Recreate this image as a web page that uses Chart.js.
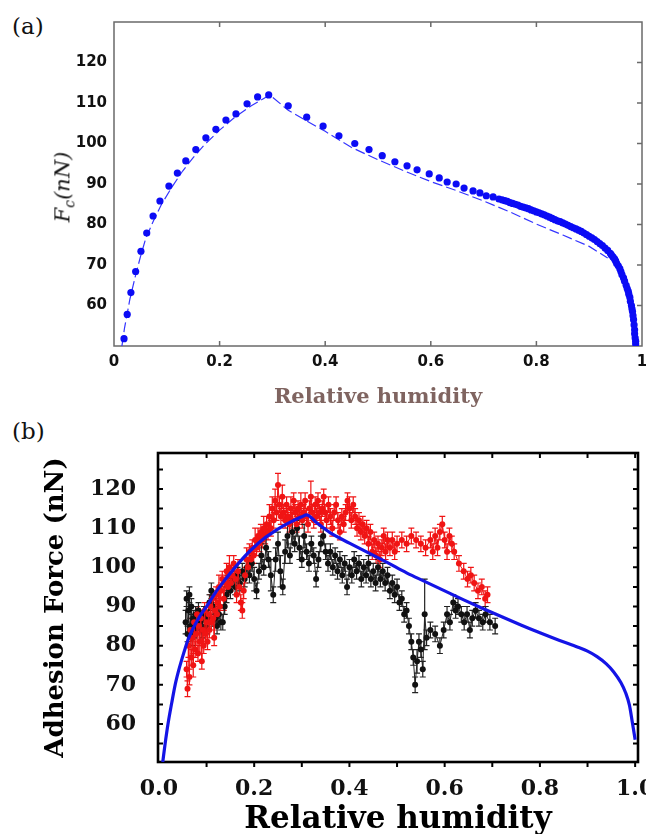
<!DOCTYPE html>
<html>
<head>
<meta charset="utf-8">
<script src="https://cdn.jsdelivr.net/npm/chart.js@4.4.0/dist/chart.umd.min.js"></script>
<style>
  body { margin: 0; width: 646px; height: 834px; position: relative; overflow: hidden; background: #fff; }
  canvas { position: absolute; left: 0; }
  .tag { position: absolute; left: 12px; font: 23px 'DejaVu Serif', serif; color: #111; }
  #fc { position: absolute; left: 64px; top: 187px; transform: translate(-50%, -50%) rotate(-90deg);
        font: italic 21px 'DejaVu Serif', serif; white-space: nowrap; color: #111; }
  #fc sub { font-size: 14px; }
</style>
</head>
<body>
<div class="tag" style="top:13px">(a)</div>
<canvas id="chartA" width="646" height="410" style="top:0"></canvas>
<div id="fc">F<sub>c</sub>(nN)</div>
<div class="tag" style="top:418px">(b)</div>
<canvas id="chartB" width="646" height="440" style="top:410px"></canvas>
<script>
// ---- panel (a): computed capillary force vs relative humidity ----
const humA = [0.019, 0.025, 0.032, 0.041, 0.051, 0.062, 0.074, 0.087, 0.104, 0.120,
  0.136, 0.155, 0.174, 0.193, 0.212, 0.231, 0.252, 0.272, 0.293, 0.330,
  0.365, 0.396, 0.426, 0.456, 0.483, 0.508, 0.532, 0.555, 0.574, 0.597,
  0.616, 0.631, 0.648, 0.663, 0.680, 0.693, 0.705, 0.718, 0.729,
  0.740, 0.750, 0.760, 0.770, 0.780, 0.790, 0.800, 0.810, 0.820, 0.830,
  0.840, 0.850, 0.860, 0.870, 0.880, 0.890, 0.900, 0.910, 0.920, 0.930, 0.940,
  0.945, 0.950, 0.955, 0.960, 0.965, 0.970, 0.974, 0.977, 0.980, 0.982,
  0.984, 0.986, 0.987, 0.988,
  // densely packed dots at high humidity
  0.735, 0.745, 0.755, 0.765, 0.775, 0.785, 0.795, 0.805, 0.815, 0.825,
  0.835, 0.845, 0.855, 0.865, 0.875, 0.885, 0.895, 0.905, 0.915, 0.925,
  0.935, 0.942, 0.948, 0.952, 0.958, 0.962, 0.967, 0.972, 0.975, 0.978,
  0.981, 0.983, 0.985, 0.986, 0.988];
const forceA = [51.8, 57.8, 63.2, 68.4, 73.4, 77.9, 82.1, 85.8, 89.5, 92.7,
  95.7, 98.5, 101.4, 103.5, 105.8, 107.3, 109.8, 111.5, 112.0, 109.3,
  106.5, 104.3, 101.9, 100.0, 98.5, 97.0, 95.5, 94.5, 93.5, 92.5,
  91.5, 90.5, 90.0, 89.0, 88.3, 87.8, 87.1, 86.8, 86.3,
  85.9, 85.4, 85.0, 84.5, 84.1, 83.6, 83.1, 82.6, 82.1, 81.5,
  80.9, 80.4, 79.8, 79.2, 78.6, 77.9, 77.1, 76.3, 75.3, 74.2, 72.9,
  72.0, 71.0, 69.8, 68.4, 66.8, 65.0, 63.5, 62.0, 60.0, 58.5,
  56.5, 54.0, 52.0, 50.5,
  86.1, 85.7, 85.2, 84.8, 84.3, 83.9, 83.4, 82.9, 82.4, 81.8,
  81.2, 80.7, 80.1, 79.5, 78.9, 78.3, 77.5, 76.7, 75.8, 74.8,
  73.6, 72.5, 71.5, 70.4, 69.1, 67.6, 66.0, 64.2, 62.8, 61.0,
  59.2, 57.5, 55.2, 53.0, 51.2];
const humFitA = [0.015, 0.02, 0.03, 0.04, 0.05, 0.06, 0.075, 0.09, 0.11, 0.13,
  0.15, 0.17, 0.2, 0.23, 0.26, 0.295, 0.33, 0.37, 0.4, 0.45,
  0.5, 0.55, 0.6, 0.65, 0.7, 0.75, 0.8, 0.85, 0.9, 0.935];
const forceFitA = [50, 54.5, 61.5, 67, 72, 76.5, 81, 85, 89.3, 93.2,
  96.5, 99.5, 103.3, 106.6, 109.3, 112, 108.2, 105.2, 103, 99,
  96, 93.2, 90.6, 88.3, 85.8, 83.1, 80.1, 77.4, 74.6, 71.7];
const xTicksA = [0, 0.2, 0.4, 0.6, 0.8, 1];
const xLabelsA = ['0', '0.2', '0.4', '0.6', '0.8', '1'];
const yTicksA = [60, 70, 80, 90, 100, 110, 120];

// ---- panel (b): measured adhesion force (red, black) and model (blue) ----
const humFitB = [0.008, 0.013, 0.019, 0.027, 0.034, 0.041, 0.048, 0.055, 0.061, 0.07,
  0.08, 0.09, 0.1, 0.12, 0.14, 0.16, 0.18, 0.2, 0.22, 0.24,
  0.26, 0.28, 0.3, 0.31, 0.33, 0.36, 0.4, 0.44, 0.48, 0.52,
  0.56, 0.6, 0.64, 0.68, 0.72, 0.76, 0.8, 0.84, 0.88, 0.9,
  0.92, 0.94, 0.955, 0.97, 0.98, 0.988, 0.994, 0.998, 1.0];
const forceFitB = [50.3, 55, 60, 65.5, 70, 73.5, 76.5, 79.3, 81.5, 84,
  86.3, 88.3, 90, 93.8, 97, 100, 102.8, 105.2, 107.3, 109,
  110.5, 111.8, 112.9, 113.4, 111.5, 108.8, 106.2, 103.7, 101.2, 98.6,
  96.3, 94.0, 91.7, 89.5, 87.4, 85.3, 83.3, 81.4, 79.6, 78.6,
  77.2, 75.3, 73.3, 70.6, 68.0, 64.8, 60.5, 57.5, 56];

const humRed = [
  0.058, 0.060, 0.062, 0.064, 0.066, 0.068, 0.070, 0.072, 0.074, 0.076,
  0.078, 0.080, 0.082, 0.084, 0.086, 0.088, 0.090, 0.092, 0.094, 0.096,
  0.098, 0.100, 0.102, 0.104, 0.106, 0.108, 0.110, 0.112, 0.114, 0.116,
  0.118, 0.120, 0.122, 0.124, 0.126, 0.128, 0.130, 0.133, 0.136, 0.139,
  0.142, 0.145, 0.148, 0.151, 0.154, 0.157, 0.160, 0.163, 0.166, 0.169,
  0.172, 0.175, 0.178, 0.181, 0.184, 0.187, 0.190, 0.193, 0.196, 0.199,
  0.202, 0.205, 0.208, 0.211, 0.214, 0.217, 0.220, 0.223, 0.226, 0.229,
  0.232, 0.235, 0.238, 0.241, 0.244, 0.247, 0.250, 0.253, 0.256, 0.259,
  0.262, 0.265, 0.268, 0.271, 0.274, 0.277, 0.280, 0.283, 0.286, 0.289,
  0.292, 0.295, 0.298, 0.301, 0.304, 0.307, 0.310, 0.313, 0.316, 0.319,
  0.322, 0.325, 0.328, 0.331, 0.334, 0.337, 0.340, 0.343, 0.346, 0.349,
  0.352, 0.356, 0.360, 0.364, 0.368, 0.372, 0.376, 0.380, 0.384, 0.388,
  0.392, 0.396, 0.400, 0.404, 0.408, 0.412, 0.416, 0.420, 0.424, 0.428,
  0.432, 0.436, 0.440, 0.444, 0.448, 0.452, 0.456, 0.460, 0.464, 0.468,
  0.472, 0.476, 0.480, 0.485, 0.490, 0.495, 0.500, 0.510, 0.520, 0.530,
  0.540, 0.550, 0.560, 0.570, 0.575, 0.580, 0.585, 0.590, 0.595, 0.600,
  0.605, 0.610, 0.615, 0.620, 0.630, 0.640, 0.648, 0.655, 0.662, 0.670,
  0.678, 0.685, 0.690];
const forceRed = [
  74, 69, 80, 72, 84, 77, 82, 75, 86, 79,
  83, 88, 78, 85, 81, 87, 76, 84, 80, 89,
  83, 86, 81, 88, 84, 90, 86, 92, 87, 82,
  89, 93, 88, 91, 95, 90, 94, 97, 92, 96,
  99, 95, 100, 96, 98, 101, 97, 93, 99, 95,
  91, 89, 94, 98, 102, 100, 104, 102, 105, 103,
  107, 105, 108, 106, 109, 107, 110, 108, 111, 109,
  113, 110, 115, 112, 117, 114, 121, 116, 113, 118,
  114, 112, 116, 113, 111, 115, 112, 117, 114, 111,
  115, 113, 116, 112, 114, 117, 113, 111, 115, 118,
  114, 112, 116, 113, 117, 114, 111, 115, 118, 114,
  112, 116, 113, 110, 114, 116, 112, 109, 113, 111,
  114, 117, 115, 112, 116, 113, 110, 112, 109, 111,
  108, 110, 106, 109, 104, 107, 103, 106, 102, 105,
  108, 104, 107, 105, 107, 104, 106, 107, 106, 108,
  107, 106, 105, 107, 104, 108, 105, 109, 111, 107,
  104, 108, 106, 104, 101, 99, 97, 98, 96, 94,
  95, 92, 93];
const errRed = [
  2, 2, 3, 2, 3, 2, 2, 3, 2, 2,
  3, 2, 2, 2, 3, 2, 2, 3, 2, 2,
  2, 3, 2, 2, 2, 3, 2, 2, 2, 2,
  3, 2, 2, 2, 3, 2, 2, 2, 3, 2,
  2, 2, 3, 2, 2, 2, 2, 2, 3, 2,
  2, 2, 2, 2, 3, 2, 2, 2, 2, 2,
  3, 2, 2, 2, 2, 2, 3, 2, 2, 2,
  3, 2, 3, 2, 3, 2, 3, 2, 2, 3,
  2, 2, 2, 2, 2, 3, 2, 2, 2, 2,
  2, 2, 3, 2, 2, 2, 2, 2, 2, 4,
  2, 2, 2, 2, 2, 2, 2, 2, 2, 2,
  2, 2, 2, 2, 2, 2, 2, 2, 2, 2,
  2, 2, 3, 2, 2, 2, 2, 2, 2, 2,
  2, 2, 2, 2, 2, 2, 2, 2, 2, 2,
  2, 2, 2, 2, 2, 2, 2, 2, 2, 2,
  2, 2, 2, 2, 2, 2, 2, 2, 2, 2,
  2, 2, 2, 2, 2, 2, 2, 2, 2, 2,
  2, 2, 2];

const humBlack = [
  0.056, 0.058, 0.060, 0.062, 0.064, 0.066, 0.068, 0.070, 0.072, 0.074,
  0.077, 0.080, 0.083, 0.086, 0.090, 0.094, 0.098, 0.102, 0.106, 0.110,
  0.114, 0.118, 0.122, 0.126, 0.130, 0.134, 0.138, 0.142, 0.146, 0.150,
  0.155, 0.160, 0.165, 0.170, 0.175, 0.180, 0.185, 0.190, 0.195, 0.200,
  0.205, 0.210, 0.215, 0.220, 0.225, 0.230, 0.235, 0.240, 0.245, 0.250,
  0.255, 0.260, 0.265, 0.270, 0.275, 0.280, 0.285, 0.290, 0.295, 0.300,
  0.305, 0.310, 0.315, 0.320, 0.325, 0.330, 0.335, 0.340, 0.345, 0.350,
  0.355, 0.360, 0.365, 0.370, 0.375, 0.380, 0.385, 0.390, 0.395, 0.400,
  0.405, 0.410, 0.415, 0.420, 0.425, 0.430, 0.435, 0.440, 0.445, 0.450,
  0.455, 0.460, 0.465, 0.470, 0.475, 0.480, 0.485, 0.490, 0.495, 0.500,
  0.505, 0.510, 0.515, 0.520, 0.525, 0.530, 0.534, 0.538, 0.542, 0.546,
  0.550, 0.554, 0.558, 0.562, 0.570, 0.580, 0.590, 0.598, 0.605, 0.611,
  0.618, 0.623, 0.628, 0.635, 0.641, 0.647, 0.653, 0.658, 0.665, 0.672,
  0.680, 0.686, 0.695, 0.706];
const forceBlack = [
  86, 92, 83, 89, 93, 85, 90, 82, 87, 84,
  88, 85, 89, 86, 84, 88, 85, 87, 91, 94,
  90, 87, 85, 88, 86, 86, 90, 93, 96, 94,
  97, 95, 98, 96, 99, 97, 100, 98, 101, 97,
  94, 99, 103, 100, 105, 102, 98, 93, 102, 106,
  99, 95, 104, 108, 103, 109, 106, 110, 105, 102,
  108, 104, 101, 106, 103, 97, 102, 106, 108, 104,
  101, 104, 100, 103, 99, 102, 98, 101, 95, 100,
  98, 102, 99, 101, 97, 100, 98, 101, 97, 99,
  96, 100, 97, 99, 96, 98, 94, 96, 93, 95,
  91, 92, 88, 89, 85, 81, 77, 70, 76, 81,
  79, 74, 88, 82, 84, 83, 80, 84, 88, 86,
  91, 89, 90, 88, 86, 88, 84, 87, 89, 87,
  86, 88, 86, 85];
const errBlack = [
  3, 2, 2, 3, 2, 2, 2, 2, 2, 2,
  2, 2, 2, 2, 2, 2, 2, 2, 2, 2,
  2, 2, 2, 2, 2, 2, 2, 2, 2, 2,
  2, 2, 2, 2, 2, 2, 2, 2, 2, 3,
  2, 2, 3, 2, 3, 2, 4, 2, 3, 3,
  4, 2, 3, 3, 2, 3, 2, 2, 3, 2,
  3, 2, 2, 2, 2, 2, 2, 2, 2, 2,
  2, 2, 2, 2, 2, 2, 2, 2, 2, 2,
  2, 2, 2, 2, 2, 2, 2, 2, 2, 2,
  2, 2, 2, 2, 2, 2, 2, 2, 2, 2,
  2, 2, 2, 2, 2, 2, 2, 2, 3, 2,
  2, 2, 9, 2, 2, 2, 2, 2, 2, 2,
  2, 2, 2, 2, 2, 2, 2, 2, 2, 2,
  2, 2, 2, 2];

const xTicksB = [0, 0.2, 0.4, 0.6, 0.8, 1.0];
const xLabelsB = ['0.0', '0.2', '0.4', '0.6', '0.8', '1.0'];
const xMarksB = [0.1, 0.2, 0.3, 0.4, 0.5, 0.6, 0.7, 0.8, 0.9, 1.0];
const yTicksB = [60, 70, 80, 90, 100, 110, 120];
const yMarksB = [55, 60, 65, 70, 75, 80, 85, 90, 95, 100, 105, 110, 115, 120, 125];

const pts = (xs, ys) => xs.map((x, i) => ({ x: x, y: ys[i] }));

// frame + inward tick marks drawn from the chart's own scales
function framePlugin(cfg) {
  return {
    id: 'frame',
    beforeDatasetsDraw(chart) {
      const { ctx, chartArea: a, scales: { x, y } } = chart;
      ctx.save();
      ctx.strokeStyle = cfg.color;
      ctx.lineWidth = cfg.width;
      ctx.strokeRect(a.left, a.top, a.right - a.left, a.bottom - a.top);
      ctx.lineWidth = cfg.tickWidth;
      ctx.beginPath();
      cfg.xTop.forEach(v => { const p = x.getPixelForValue(v); ctx.moveTo(p, a.top); ctx.lineTo(p, a.top + cfg.len); });
      cfg.xBottom.forEach(v => { const p = x.getPixelForValue(v); ctx.moveTo(p, a.bottom); ctx.lineTo(p, a.bottom + cfg.bottomDir * cfg.len); });
      cfg.yLeft.forEach(v => { const p = y.getPixelForValue(v); ctx.moveTo(a.left, p); ctx.lineTo(a.left + cfg.len, p); });
      cfg.yRight.forEach(v => { const p = y.getPixelForValue(v); ctx.moveTo(a.right, p); ctx.lineTo(a.right - cfg.len, p); });
      ctx.stroke();
      ctx.restore();
    }
  };
}

// vertical error bars with caps for datasets that carry `errors`
const errorBars = {
  id: 'errorBars',
  beforeDatasetsDraw(chart) {
    const { ctx, chartArea: a, scales: { x, y } } = chart;
    ctx.save();
    ctx.beginPath();
    ctx.rect(a.left, a.top, a.right - a.left, a.bottom - a.top);
    ctx.clip();
    chart.data.datasets.forEach(ds => {
      if (!ds.errors) return;
      ctx.strokeStyle = ds.borderColor;
      ctx.lineWidth = 1.2;
      ctx.beginPath();
      ds.data.forEach((p, i) => {
        const px = x.getPixelForValue(p.x);
        const t = y.getPixelForValue(p.y + ds.errors[i]);
        const b = y.getPixelForValue(p.y - ds.errors[i]);
        ctx.moveTo(px, t); ctx.lineTo(px, b);
        ctx.moveTo(px - 3, t); ctx.lineTo(px + 3, t);
        ctx.moveTo(px - 3, b); ctx.lineTo(px + 3, b);
      });
      ctx.stroke();
    });
    ctx.restore();
  }
};

const common = {
  responsive: false,
  animation: false,
  events: [],
  plugins: { legend: { display: false }, tooltip: { enabled: false } }
};

// ---------- chart (a) ----------
new Chart(document.getElementById('chartA'), {
  type: 'scatter',
  data: {
    datasets: [
      {
        data: pts(humA, forceA),
        pointRadius: 3.6,
        pointBackgroundColor: '#0b0bf5',
        pointBorderWidth: 0,
        showLine: false
      },
      {
        data: pts(humFitA, forceFitA),
        showLine: true,
        pointRadius: 0,
        borderColor: '#3535ff',
        borderWidth: 1.2,
        borderDash: [10, 4]
      }
    ]
  },
  options: {
    ...common,
    layout: { padding: { left: 0, top: 22, right: 3, bottom: 0 } },
    scales: {
      x: {
        type: 'linear', min: 0, max: 1,
        afterBuildTicks: s => { s.ticks = xTicksA.map(v => ({ value: v })); },
        afterFit: s => { s.height = 64; s.paddingLeft = 0; s.paddingRight = 0; },
        grid: { display: false, drawTicks: false },
        border: { display: false },
        ticks: {
          padding: 7, maxRotation: 0, autoSkip: false, color: '#111',
          font: { family: 'DejaVu Sans', size: 15, weight: 'bold' },
          callback: (v, i) => xLabelsA[i]
        },
        title: {
          display: true, text: 'Relative humidity', color: '#7f6460',
          font: { family: 'DejaVu Serif', size: 21, weight: 'bold' },
          padding: { top: 0, bottom: 0 }
        }
      },
      y: {
        type: 'linear', min: 50, max: 130,
        afterBuildTicks: s => { s.ticks = yTicksA.map(v => ({ value: v })); },
        afterFit: s => { s.width = 114; s.paddingTop = 0; s.paddingBottom = 0; },
        grid: { display: false, drawTicks: false },
        border: { display: false },
        ticks: {
          padding: 7, color: '#111',
          font: { family: 'DejaVu Sans', size: 15, weight: 'bold' }
        }
      }
    }
  },
  plugins: [framePlugin({
    color: '#6a6a6a', width: 1.5, tickWidth: 1.5, len: 5, bottomDir: -1,
    xTop: xTicksA.slice(1, -1), xBottom: xTicksA.slice(1, -1), yLeft: [], yRight: yTicksA
  })]
});

// ---------- chart (b) ----------
new Chart(document.getElementById('chartB'), {
  type: 'scatter',
  data: {
    datasets: [
      {
        data: pts(humFitB, forceFitB),
        showLine: true,
        cubicInterpolationMode: 'monotone',
        pointRadius: 0,
        borderColor: '#1414e6',
        borderWidth: 3.2
      },
      {
        data: pts(humRed, forceRed),
        errors: errRed,
        showLine: true,
        borderColor: '#f01414',
        borderWidth: 1,
        pointRadius: 3,
        pointBackgroundColor: '#f01414',
        pointBorderWidth: 0
      },
      {
        data: pts(humBlack, forceBlack),
        errors: errBlack,
        showLine: true,
        borderColor: '#222',
        borderWidth: 1,
        pointRadius: 3,
        pointBackgroundColor: '#111',
        pointBorderWidth: 0
      }
    ]
  },
  options: {
    ...common,
    layout: { padding: { left: 0, top: 43, right: 8, bottom: 0 } },
    scales: {
      x: {
        type: 'linear', min: -0.002, max: 1.006,
        afterBuildTicks: s => { s.ticks = xTicksB.map(v => ({ value: v })); },
        afterFit: s => { s.height = 88; s.paddingLeft = 0; s.paddingRight = 0; },
        grid: { display: false, drawTicks: false },
        border: { display: false },
        ticks: {
          padding: 14, maxRotation: 0, autoSkip: false, color: '#111',
          font: { family: 'DejaVu Serif', size: 22, weight: 'bold' },
          callback: (v, i) => xLabelsB[i]
        },
        title: {
          display: true, text: 'Relative humidity', color: '#000',
          font: { family: 'DejaVu Serif', size: 31, weight: 'bold' },
          padding: { top: 0, bottom: 11 }
        }
      },
      y: {
        type: 'linear', min: 50.3, max: 129.2,
        afterBuildTicks: s => { s.ticks = yTicksB.map(v => ({ value: v })); },
        afterFit: s => { s.width = 158; s.paddingTop = 0; s.paddingBottom = 0; },
        grid: { display: false, drawTicks: false },
        border: { display: false },
        ticks: {
          padding: 22, color: '#111',
          font: { family: 'DejaVu Serif', size: 22, weight: 'bold' }
        },
        title: {
          display: true, text: 'Adhesion Force (nN)', color: '#000',
          font: { family: 'DejaVu Serif', size: 26, weight: 'bold' },
          padding: { top: 41, bottom: 0 }
        }
      }
    }
  },
  plugins: [errorBars, framePlugin({
    color: '#000', width: 2.6, tickWidth: 2, len: 5, bottomDir: 1,
    xTop: xMarksB, xBottom: xMarksB, yLeft: yMarksB, yRight: yMarksB
  })]
});
</script>
</body>
</html>
